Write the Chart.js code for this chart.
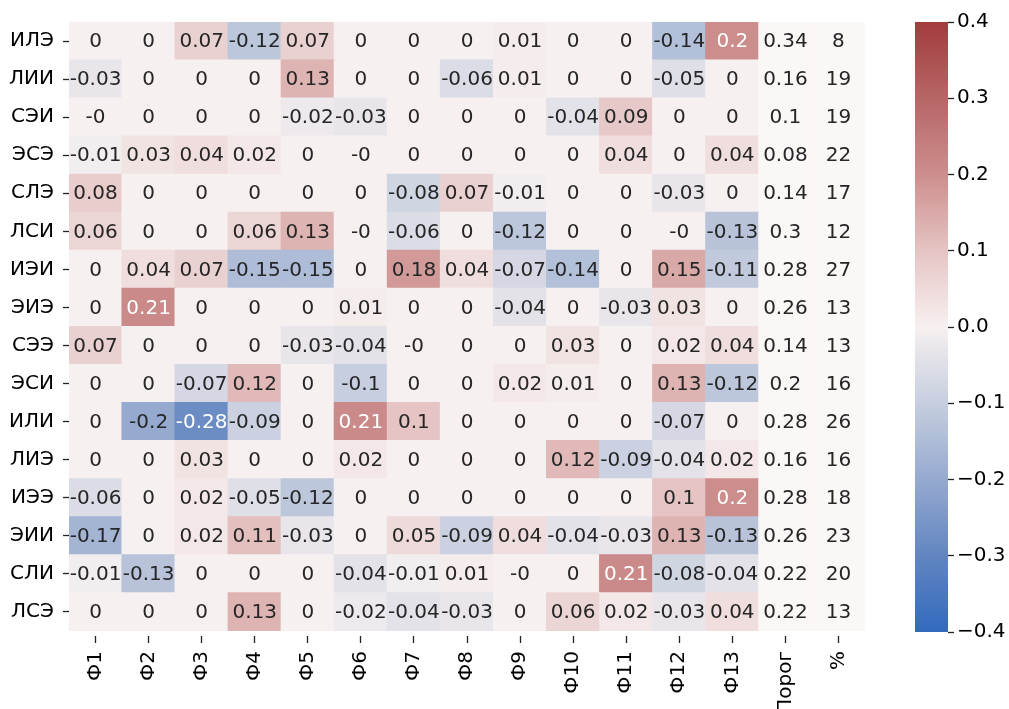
<!DOCTYPE html>
<html>
<head>
<meta charset="utf-8">
<script src="https://cdn.jsdelivr.net/npm/chart.js@4.4.0/dist/chart.umd.min.js"></script>
<style>
  html, body { margin: 0; padding: 0; background: #fff; }
  #wrap { position: relative; width: 1009px; height: 709px; }
  #heat { position: absolute; left: 0; top: 0; }
  #cbar { position: absolute; left: 900px; top: 0; }
</style>
</head>
<body>
<div id="wrap">
  <canvas id="heat" width="900" height="709"></canvas>
  <canvas id="cbar" width="109" height="709"></canvas>
</div>
<script>
// rows top to bottom
const rowLabels = ["ИЛЭ", "ЛИИ", "СЭИ", "ЭСЭ", "СЛЭ", "ЛСИ", "ИЭИ", "ЭИЭ",
  "СЭЭ", "ЭСИ", "ИЛИ", "ЛИЭ", "ИЭЭ", "ЭИИ", "СЛИ", "ЛСЭ"];
const colLabels = ["Ф1", "Ф2", "Ф3", "Ф4", "Ф5", "Ф6", "Ф7", "Ф8", "Ф9",
  "Ф10", "Ф11", "Ф12", "Ф13", "Порог", "%"];

// Ф1..Ф13 for each row
const factors = [
  [0, 0, 0.07, -0.12, 0.07, 0, 0, 0, 0.01, 0, 0, -0.14, 0.2],
  [-0.03, 0, 0, 0, 0.13, 0, 0, -0.06, 0.01, 0, 0, -0.05, 0],
  [-0, 0, 0, 0, -0.02, -0.03, 0, 0, 0, -0.04, 0.09, 0, 0],
  [-0.01, 0.03, 0.04, 0.02, 0, -0, 0, 0, 0, 0, 0.04, 0, 0.04],
  [0.08, 0, 0, 0, 0, 0, -0.08, 0.07, -0.01, 0, 0, -0.03, 0],
  [0.06, 0, 0, 0.06, 0.13, -0, -0.06, 0, -0.12, 0, 0, -0, -0.13],
  [0, 0.04, 0.07, -0.15, -0.15, 0, 0.18, 0.04, -0.07, -0.14, 0, 0.15, -0.11],
  [0, 0.21, 0, 0, 0, 0.01, 0, 0, -0.04, 0, -0.03, 0.03, 0],
  [0.07, 0, 0, 0, -0.03, -0.04, -0, 0, 0, 0.03, 0, 0.02, 0.04],
  [0, 0, -0.07, 0.12, 0, -0.1, 0, 0, 0.02, 0.01, 0, 0.13, -0.12],
  [0, -0.2, -0.28, -0.09, 0, 0.21, 0.1, 0, 0, 0, 0, -0.07, 0],
  [0, 0, 0.03, 0, 0, 0.02, 0, 0, 0, 0.12, -0.09, -0.04, 0.02],
  [-0.06, 0, 0.02, -0.05, -0.12, 0, 0, 0, 0, 0, 0, 0.1, 0.2],
  [-0.17, 0, 0.02, 0.11, -0.03, 0, 0.05, -0.09, 0.04, -0.04, -0.03, 0.13, -0.13],
  [-0.01, -0.13, 0, 0, 0, -0.04, -0.01, 0.01, -0, 0, 0.21, -0.08, -0.04],
  [0, 0, 0, 0.13, 0, -0.02, -0.04, -0.03, 0, 0.06, 0.02, -0.03, 0.04]
];
const thresholds = [0.34, 0.16, 0.1, 0.08, 0.14, 0.3, 0.28, 0.26, 0.14, 0.2, 0.28, 0.16, 0.28, 0.26, 0.22, 0.22];
const percents = [8, 19, 19, 22, 17, 12, 27, 13, 13, 16, 26, 16, 18, 23, 20, 13];

const cbTicks = [-0.4, -0.3, -0.2, -0.1, 0, 0.1, 0.2, 0.3, 0.4];

// vlag-like colormap stops (value -> rgb)
const cmap = [
  [-0.4, [50, 106, 190]],
  [-0.3, [98, 133, 193]],
  [-0.2, [150, 170, 207]],
  [-0.1, [198, 206, 223]],
  [0.0, [247, 240, 240]],
  [0.1, [229, 196, 195]],
  [0.2, [204, 142, 141]],
  [0.3, [183, 101, 102]],
  [0.4, [163, 60, 61]]
];
const plainCell = "#fcf7f7";

function rgbFor(v) {
  v = Math.max(-0.4, Math.min(0.4, v));
  for (let i = 0; i < cmap.length - 1; i++) {
    const [a, ca] = cmap[i];
    const [b, cb] = cmap[i + 1];
    if (v <= b + 1e-12) {
      const t = (v - a) / (b - a);
      return ca.map((x, k) => Math.round(x + (cb[k] - x) * t));
    }
  }
  return cmap[cmap.length - 1][1];
}
const css = (c) => `rgb(${c[0]},${c[1]},${c[2]})`;

function textColorFor(v) {
  const lin = rgbFor(v).map((x) => {
    x /= 255;
    return x <= 0.03928 ? x / 12.92 : Math.pow((x + 0.055) / 1.055, 2.4);
  });
  const lum = 0.2126 * lin[0] + 0.7152 * lin[1] + 0.0722 * lin[2];
  return lum > 0.36 ? "#262626" : "#ffffff";
}

function fmt(v) {
  return Object.is(v, -0) ? "-0" : String(v);
}

const nRows = rowLabels.length;
const FONT = "'DejaVu Sans', sans-serif";
const FS = 20;

// one stacked dataset per row, bottom row first
const datasets = [];
for (let k = 0; k < nRows; k++) {
  const r = nRows - 1 - k;
  datasets.push({
    label: rowLabels[r],
    data: colLabels.map(() => 1),
    backgroundColor: colLabels.map((_, c) => (c < 13 ? css(rgbFor(factors[r][c])) : plainCell)),
    borderWidth: 0,
    barPercentage: 1,
    categoryPercentage: 1,
    inflateAmount: 0.6
  });
}

const annotations = {
  id: "annotations",
  afterDatasetsDraw(chart) {
    const ctx = chart.ctx;
    ctx.save();
    ctx.font = `${FS}px ${FONT}`;
    ctx.textAlign = "center";
    ctx.textBaseline = "middle";
    chart.data.datasets.forEach((ds, k) => {
      const r = nRows - 1 - k;
      chart.getDatasetMeta(k).data.forEach((bar, c) => {
        let text, color = "#262626";
        if (c < 13) {
          text = fmt(factors[r][c]);
          color = textColorFor(factors[r][c]);
        } else if (c === 13) {
          text = fmt(thresholds[r]);
        } else {
          text = fmt(percents[r]);
        }
        ctx.fillStyle = color;
        ctx.fillText(text, bar.x, (bar.y + bar.base) / 2 + 1);
      });
    });
    ctx.restore();
  }
};

new Chart(document.getElementById("heat").getContext("2d"), {
  type: "bar",
  data: { labels: colLabels, datasets },
  options: {
    responsive: false,
    animation: false,
    events: [],
    layout: { padding: { top: 22, right: 35, left: 0, bottom: 0 } },
    plugins: { legend: { display: false }, tooltip: { enabled: false } },
    scales: {
      x: {
        stacked: true,
        grid: {
          offset: false,
          drawOnChartArea: false,
          tickLength: 12,
          tickBorderDash: [0, 5, 7],
          tickColor: "#222",
          tickWidth: 1.3
        },
        border: { display: false },
        ticks: {
          maxRotation: 90,
          minRotation: 90,
          autoSkip: false,
          padding: 8,
          color: "#000",
          font: { family: FONT, size: FS }
        },
        afterFit: (scale) => { scale.height = 78; }
      },
      y: {
        stacked: true,
        min: 0,
        max: nRows,
        grid: {
          drawOnChartArea: false,
          tickLength: 6,
          tickColor: "#222",
          tickWidth: 1.3
        },
        border: { display: false },
        afterBuildTicks: (scale) => {
          scale.ticks = rowLabels.map((_, i) => ({ value: i + 0.5 }));
        },
        ticks: {
          autoSkip: false,
          padding: 9,
          color: "#000",
          font: { family: FONT, size: FS },
          callback: (value) => rowLabels[nRows - 1 - Math.floor(value)]
        },
        afterFit: (scale) => { scale.width = 69; }
      }
    }
  },
  plugins: [annotations]
});

// colour bar
function cbGradient(context) {
  const chart = context.chart;
  const area = chart.chartArea;
  if (!area) return null;
  const yScale = chart.scales.y;
  const g = chart.ctx.createLinearGradient(0, area.bottom, 0, area.top);
  for (let i = 0; i <= 80; i++) {
    const v = -0.4 + i * 0.01;
    const t = (yScale.getPixelForValue(v) - area.bottom) / (area.top - area.bottom);
    g.addColorStop(Math.max(0, Math.min(1, t)), css(rgbFor(v)));
  }
  return g;
}

new Chart(document.getElementById("cbar").getContext("2d"), {
  type: "bar",
  data: {
    labels: ["cb"],
    datasets: [{
      data: [[cbTicks[0], cbTicks[cbTicks.length - 1]]],
      backgroundColor: cbGradient,
      borderWidth: 0,
      barPercentage: 1,
      categoryPercentage: 1
    }]
  },
  options: {
    responsive: false,
    animation: false,
    events: [],
    layout: { padding: { top: 22, bottom: 77, left: 15, right: 0 } },
    plugins: { legend: { display: false }, tooltip: { enabled: false } },
    scales: {
      x: { display: false },
      y: {
        position: "right",
        min: cbTicks[0],
        max: cbTicks[cbTicks.length - 1],
        grid: { drawOnChartArea: false, tickLength: 6, tickColor: "#222", tickWidth: 1.3 },
        border: { display: false },
        afterBuildTicks: (scale) => {
          scale.ticks = cbTicks.map((v) => ({ value: v }));
        },
        ticks: {
          padding: 3,
          color: "#000",
          font: { family: FONT, size: FS },
          callback: (v) => (Math.abs(v) < 1e-9 ? "0.0" : v.toFixed(1).replace("-", "\u2212"))
        },
        afterFit: (scale) => { scale.width = 61; }
      }
    }
  }
});
</script>
</body>
</html>
